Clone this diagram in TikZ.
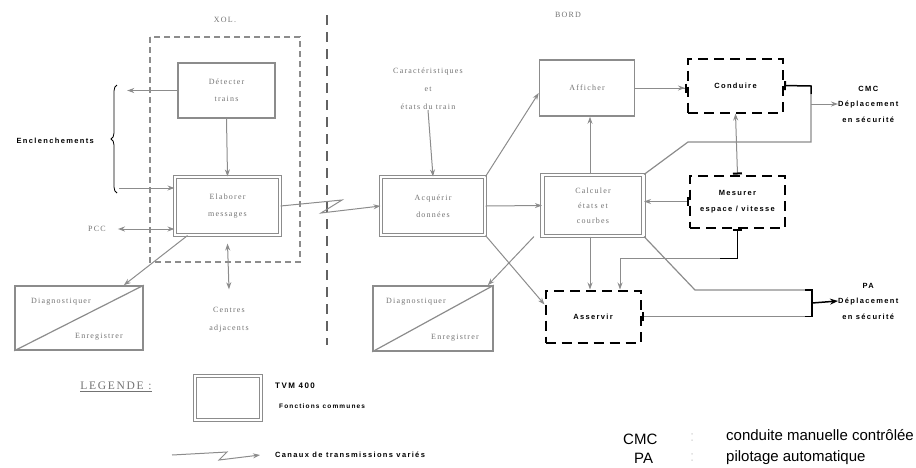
\documentclass[tikz,border=0pt]{standalone}
\usepackage{fontspec}
\setmainfont{Liberation Serif}
\newfontfamily\boxfont{Liberation Serif}[LetterSpace=15]
\newfontfamily\boldfont{Liberation Sans}[LetterSpace=18]
\newfontfamily\keyfont{Liberation Sans}
\usetikzlibrary{arrows.meta,decorations.pathreplacing}
\definecolor{linegray}{gray}{0.55}
\definecolor{textgray}{gray}{0.45}
\begin{document}
\begin{tikzpicture}[x=1pt, y=-1pt,
    fn/.style={draw=linegray, line width=1.6pt, text=textgray, align=center, inner sep=0pt,
      font=\boxfont\fontsize{8}{17}\selectfont},
    tvm/.style={fn, double, double distance=2.5pt, line width=1.1pt},
    bord/.style={draw=black, line width=2pt, dash pattern=on 10pt off 6pt, align=center, inner sep=0pt,
      font=\boldfont\bfseries\fontsize{7.5}{16}\selectfont},
    lab/.style={align=center, inner sep=0pt, font=\boldfont\bfseries\fontsize{7.5}{15.5}\selectfont},
    note/.style={align=center, inner sep=0pt, text=textgray, font=\boxfont\fontsize{8}{18}\selectfont},
    key/.style={inner sep=0pt, font=\keyfont\fontsize{15}{18}\selectfont},
    stl/.tip={Stealth[length=7pt, width=5pt]},
    bar/.tip={Bar[color=black, width=9pt, line width=2pt]},
    link/.style={draw=linegray, line width=1pt, -{stl}},
    both/.style={link, {stl}-{stl}},
    blk/.style={draw=black, line width=1.5pt}]
  \useasboundingbox (0,0) rectangle (916,467);

  % sol / bord
  \node[note] (xol) at (225,20) {XOL.};
  \node[note] (bordlab) at (568,15) {BORD};
  \draw[linegray, line width=1.2pt, dash pattern=on 6pt off 4pt] (150,37) rectangle (300,262);
  \draw[linegray!70!black, line width=2.2pt, dash pattern=on 10pt off 7pt] (327,15) -- (327,345);

  % boxes
  \node[fn, minimum width=97pt, minimum height=55pt] (detecter) at (226.5,90.5) {Détecter\\trains};
  \node[tvm, minimum width=105pt, minimum height=58pt] (elaborer) at (227.5,206) {Elaborer\\messages};
  \node[tvm, minimum width=104pt, minimum height=58pt] (acquerir) at (433,206) {Acquérir\\données};
  \node[tvm, minimum width=101pt, minimum height=61pt, font=\boxfont\fontsize{8}{15}\selectfont] (calculer) at (593,205.5) {Calculer\\états et\\courbes};
  \node[fn, minimum width=95pt, minimum height=56pt] (afficher) at (587,88) {Afficher};
  \node[bord, minimum width=95pt, minimum height=54pt] (conduire) at (735.5,85.5) {Conduire};
  \node[bord, minimum width=95pt, minimum height=52pt] (mesurer) at (737.5,201.5) {Mesurer\\espace / vitesse};
  \node[bord, minimum width=95pt, minimum height=52pt] (asservir) at (593,316.5) {Asservir};
  \node[fn, minimum width=128pt, minimum height=64pt] (diagA) at (79,318) {};
  \node[fn, minimum width=120pt, minimum height=65pt] (diagB) at (433,318.5) {};
  \draw[linegray, line width=1.2pt] (diagA.south west) -- (diagA.north east);
  \draw[linegray, line width=1.2pt] (diagB.south west) -- (diagB.north east);
  \node[note] (diagAtop) at (61,302) {Diagnostiquer};
  \node[note] (diagAbot) at (99,337) {Enregistrer};
  \node[note] (diagBtop) at (416,302) {Diagnostiquer};
  \node[note] (diagBbot) at (455,338) {Enregistrer};

  % labels
  \node[lab, anchor=east] (encl) at (94,141) {Enclenchements};
  \node[note] (pcc) at (97,229) {PCC};
  \node[note] (centres) at (229,320) {Centres\\adjacents};
  \node[note] (caract) at (428,89) {Caractéristiques\\et\\états du train};
  \node[lab, anchor=west] (cmc) at (838,104) {CMC\\Déplacement\\en sécurité};
  \node[lab, anchor=west] (pa) at (838,301) {PA\\Déplacement\\en sécurité};

  % sol side
  \coordinate (encB) at (119,188);
  \draw[decorate, decoration={brace, amplitude=6pt}, black, line width=.8pt] (117,193) -- (117,85);
  \draw[link] (detecter.west) -- ++(-50,0);
  \draw[link] (encB) -- (encB -| elaborer.west);
  \draw[link] (detecter.south) -- (elaborer.north);
  \draw[both] ([xshift=12pt]pcc.east) -- (pcc.east -| elaborer.west);
  \draw[both] ([yshift=-8pt]elaborer.south) -- ([yshift=18pt]centres.north);
  \draw[link] ([xshift=-40pt]elaborer.south) -- ([xshift=-20pt]diagA.north east);
  \draw[link] (elaborer.east) -- (342,200) -- (321,213) -- (acquerir.west);

  % bord side
  \draw[link] (caract.south) -- (acquerir.north);
  \draw[link] (acquerir.north east) -- ([yshift=-5pt]afficher.west);
  \draw[link] (acquerir.east) -- (calculer.west);
  \draw[link] (acquerir.south east) -- ([yshift=-15pt]asservir.north west);
  \draw[link] ([xshift=-3pt]calculer.north) -- ([xshift=-3pt]calculer.north |- afficher.south);
  \draw[link] ([xshift=-3pt]calculer.south) -- ([xshift=-3pt]calculer.south |- asservir.north);
  \draw[link] ([xshift=-8pt]calculer.south west) -- ([xshift=-6pt]diagB.north east);
  \draw[link, -{Stealth[length=7pt, width=5pt] Bar[color=black, width=9pt, line width=2pt]}] (afficher.east) -- (afficher.east -| conduire.west);
  \draw[link, {bar}-{stl}] (mesurer.north) -- (conduire.south);
  \draw[link, {bar}-{stl}] (mesurer.west) -- (mesurer.west -| calculer.east);
  \draw[blk, {bar}-] (mesurer.south) -- ++(0,30) coordinate (asvK) -- ++(-18,0) coordinate (asvL);
  \draw[link] (asvL) -| ([xshift=27pt]asservir.north);

  % CMC
  \coordinate (cmcT) at (811,86);
  \coordinate (cmcM) at (811,104);
  \draw[blk, {bar}-] (conduire.east) -- (cmcT) -- ++(0,8);
  \draw[linegray, line width=1.2pt] ([yshift=-8pt]cmcT) -- (811,142) -- (688,142) -- (calculer.north east);
  \draw[link] (cmcM) -- (cmc.west);

  % PA
  \coordinate (paT) at (812,290);
  \coordinate (paM) at (812,303);
  \coordinate (paB) at (812,316.5);
  \draw[linegray, line width=1.2pt] (calculer.south east) -- (695,290) -- (paT);
  \draw[linegray, line width=1.2pt, {bar}-] (asservir.east) -- (asservir.east -| paB);
  \draw[blk] ([xshift=-7pt]paT) -- (paT) -- (paB) -- ([xshift=-7pt]paB);
  \draw[blk, -{Stealth[length=8pt, width=6pt]}] (paM) -- (pa.west);

  % legende
  \node[text=textgray, inner sep=0pt, font=\boxfont\fontsize{11.5}{13}\selectfont] (legende) at (116,387) {\underline{LEGENDE :}};
  \node[tvm, minimum width=66pt, minimum height=44pt] (tvmkey) at (228,398) {};
  \node[lab, anchor=west, font=\boldfont\bfseries\fontsize{8}{10}\selectfont] (tvmname) at (275,386) {TVM 400};
  \node[lab, anchor=west, font=\boldfont\bfseries\fontsize{6.5}{8}\selectfont] (tvmtext) at (279,406) {Fonctions communes};
  \node[lab, anchor=west, font=\boldfont\bfseries\fontsize{7.5}{9}\selectfont] (canaux) at (275,455) {Canaux de transmissions variés};
  \coordinate (zzA) at (172,455);
  \draw[link] (zzA) -- (227,452) -- (219,460) -- ([xshift=-15pt]canaux.west);

  \node[key, anchor=base west] (cmckey) at (623,444) {CMC};
  \node[key, anchor=base west] (pakey) at (634,463) {PA};
  \node[key, anchor=base west, text=gray!30] (colA) at (690,441) {:};
  \node[key, anchor=base west, text=gray!30] (colB) at (690,461) {:};
  \node[key, anchor=base west] (cmcdef) at (726,440) {conduite manuelle contrôlée};
  \node[key, anchor=base west] (padef) at (726,461) {pilotage automatique};
\end{tikzpicture}
\end{document}
